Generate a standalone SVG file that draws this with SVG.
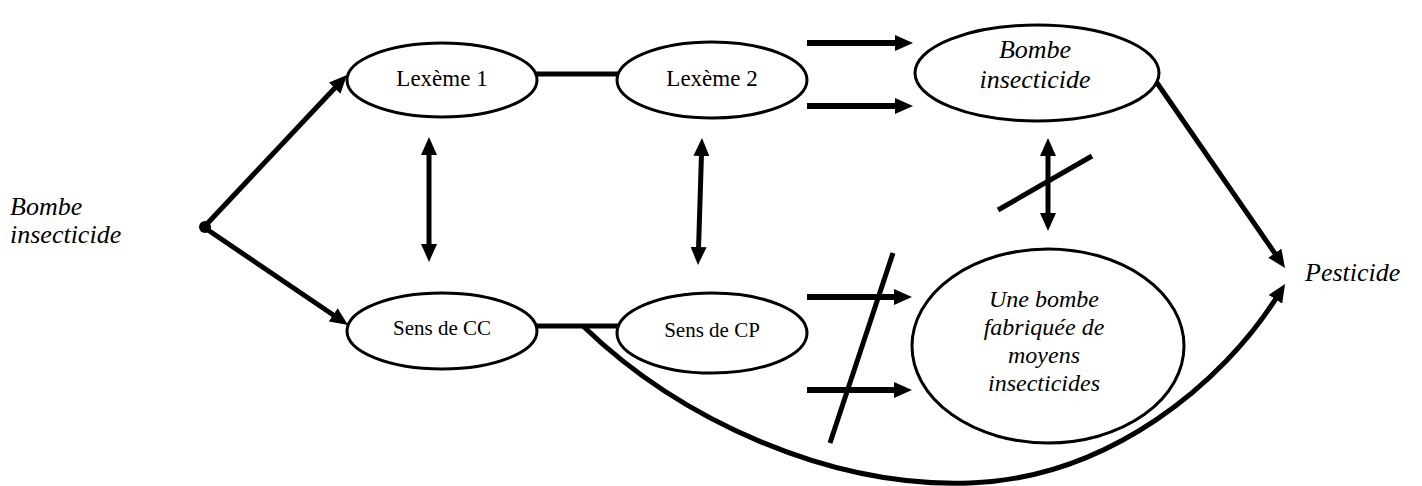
<svg xmlns="http://www.w3.org/2000/svg" width="1422" height="486" viewBox="0 0 1422 486">
<style>
.node ellipse{fill:#fff;stroke:#000;stroke-width:3}
.t{font-family:"Liberation Serif","Times New Roman",serif;fill:#000;text-anchor:middle}
.r{font-size:23px}
.s{font-size:21px}
.i{font-size:26px;font-style:italic}
.u{font-size:24px;font-style:italic}
.c{fill:none;stroke:#000;stroke-width:5}
.h{fill:none;stroke:#000;stroke-width:6}
</style>
<defs>
<marker id="ah" markerUnits="userSpaceOnUse" markerWidth="18" markerHeight="16" refX="2" refY="8" orient="auto-start-reverse" viewBox="0 0 18 16">
<path d="M0,0 L18,8 L0,16 z" fill="#000"/>
</marker>
</defs>
<g id="connectors">
<circle cx="205" cy="227" r="6" fill="#000"/>
<line class="c" x1="205" y1="226" x2="336" y2="86.7" marker-end="url(#ah)"/>
<line class="c" x1="205" y1="228" x2="334.8" y2="316" marker-end="url(#ah)"/>
<line class="c" x1="535" y1="74" x2="619" y2="74"/>
<line class="c" x1="535" y1="326" x2="619" y2="326"/>
<line class="c" x1="429" y1="153" x2="429" y2="246" marker-start="url(#ah)" marker-end="url(#ah)"/>
<line class="c" x1="701.5" y1="154" x2="698.5" y2="249" marker-start="url(#ah)" marker-end="url(#ah)"/>
<line class="c" x1="1048" y1="154" x2="1048" y2="215" marker-start="url(#ah)" marker-end="url(#ah)"/>
<line class="h" x1="807" y1="43" x2="897" y2="43" marker-end="url(#ah)"/>
<line class="h" x1="807" y1="106" x2="897" y2="106" marker-end="url(#ah)"/>
<line class="h" x1="807" y1="297" x2="896" y2="297" marker-end="url(#ah)"/>
<line class="h" x1="807" y1="390" x2="896" y2="390" marker-end="url(#ah)"/>
<line class="c" x1="893" y1="253" x2="830" y2="443"/>
<line class="c" x1="998" y1="210" x2="1092" y2="156"/>
<line class="c" x1="1155" y1="80" x2="1275.9" y2="254.8" marker-end="url(#ah)"/>
<path class="c" d="M583,326 C680,420 830,488 970,483 C1110,478 1223,382 1276.5,297.6" marker-end="url(#ah)"/>
</g>
<g id="label-bombe-insecticide">
<text class="t i" x="10" y="215" style="text-anchor:start">Bombe</text>
<text class="t i" x="10" y="243" style="text-anchor:start">insecticide</text>
</g>
<g id="node-lexeme1" class="node">
<ellipse cx="442" cy="80" rx="95" ry="37"/>
<text class="t r" x="442" y="86">Lexème 1</text>
</g>
<g id="node-lexeme2" class="node">
<ellipse cx="712" cy="80" rx="95" ry="38"/>
<text class="t r" x="712" y="86">Lexème 2</text>
</g>
<g id="node-sens-cc" class="node">
<ellipse cx="442" cy="331" rx="95" ry="38"/>
<text class="t s" x="442" y="335">Sens de CC</text>
</g>
<g id="node-sens-cp" class="node">
<ellipse cx="712" cy="333" rx="95" ry="40"/>
<text class="t s" x="712" y="337">Sens de CP</text>
</g>
<g id="node-bombe" class="node">
<ellipse cx="1037" cy="73" rx="122" ry="48"/>
<text class="t i" x="1035" y="58">Bombe</text>
<text class="t i" x="1035" y="88">insecticide</text>
</g>
<g id="node-une-bombe" class="node">
<ellipse cx="1048" cy="346" rx="136" ry="97"/>
<text class="t u" x="1044" y="307">Une bombe</text>
<text class="t u" x="1044" y="335">fabriquée de</text>
<text class="t u" x="1044" y="363">moyens</text>
<text class="t u" x="1044" y="391">insecticides</text>
</g>
<g id="label-pesticide">
<text class="t i" x="1305" y="281" style="text-anchor:start">Pesticide</text>
</g>
</svg>
